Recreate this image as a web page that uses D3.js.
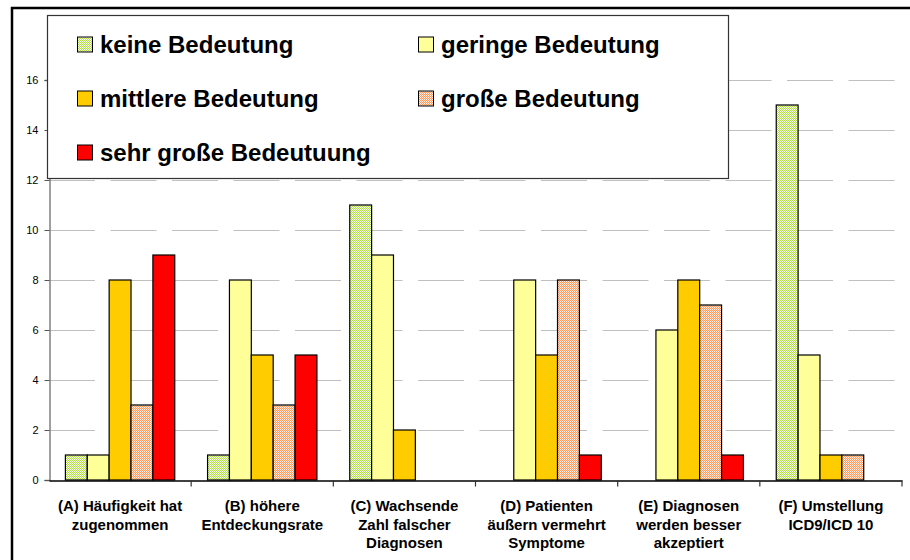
<!DOCTYPE html>
<html>
<head>
<meta charset="utf-8">
<script src="https://cdn.jsdelivr.net/npm/d3@7"></script>
<style>
  html, body { margin: 0; padding: 0; background: #fff; }
  svg { display: block; font-family: "Liberation Sans", Arial, sans-serif; }
</style>
</head>
<body>
<svg id="chart" width="910" height="560"></svg>
<script>
// ---- data ----
const categories = ["A", "B", "C", "D", "E", "F"];
const categoryLabels = [
  ["(A) Häufigkeit hat", "zugenommen"],
  ["(B) höhere", "Entdeckungsrate"],
  ["(C) Wachsende", "Zahl falscher", "Diagnosen"],
  ["(D) Patienten", "äußern vermehrt", "Symptome"],
  ["(E) Diagnosen", "werden besser", "akzeptiert"],
  ["(F) Umstellung", "ICD9/ICD 10"]
];
const seriesNames = ["keine Bedeutung", "geringe Bedeutung", "mittlere Bedeutung", "große Bedeutung", "sehr große Bedeutuung"];
const keine     = [1, 1, 11, 0, 0, 15];
const geringe   = [1, 8, 9, 8, 6, 5];
const mittlere  = [8, 5, 2, 5, 8, 1];
const grosse    = [3, 3, 0, 8, 7, 1];
const sehrGross = [9, 5, 0, 1, 1, 0];
const yTicks = [0, 2, 4, 6, 8, 10, 12, 14, 16];

const seriesValues = [keine, geringe, mittlere, grosse, sehrGross];
const seriesFill = ["url(#patGreen)", "#FFFF99", "#FFCC00", "url(#patSalmon)", "#FF0000"];

const svg = d3.select("#chart");

// patterns (aligned to the pixel grid in absolute user space)
const defs = svg.append("defs");
function checker(id, c1, c2) {
  const p = defs.append("pattern").attr("id", id)
    .attr("x", 0).attr("y", 0)
    .attr("width", 2).attr("height", 2).attr("patternUnits", "userSpaceOnUse");
  p.append("rect").attr("width", 2).attr("height", 2).attr("fill", c2).attr("shape-rendering", "crispEdges");
  p.append("rect").attr("x", 0).attr("y", 0).attr("width", 1).attr("height", 1).attr("fill", c1).attr("shape-rendering", "crispEdges");
  p.append("rect").attr("x", 1).attr("y", 1).attr("width", 1).attr("height", 1).attr("fill", c1).attr("shape-rendering", "crispEdges");
}
checker("patGreen", "#B2DC4C", "#FAFFE6");
checker("patSalmon", "#FF9A5E", "#FFEDE2");

// outer frame
svg.append("rect").attr("x", 12).attr("y", 8).attr("width", 920).attr("height", 570)
  .attr("fill", "none").attr("stroke", "#000").attr("stroke-width", 2.5);

const plotLeft = 49, plotRight = 902;
const x0 = d3.scaleBand().domain(categories).range([plotLeft, plotRight]).padding(0);
const x1 = d3.scaleBand().domain(d3.range(seriesNames.length)).range([0, x0.bandwidth()])
  .paddingInner(0).paddingOuter(0.75);
const y = d3.scaleLinear().domain([0, 16]).range([480, 80]);

// gridlines
svg.append("g").selectAll("line").data(yTicks.filter(d => d > 0)).join("line")
  .attr("x1", plotLeft).attr("x2", plotRight)
  .attr("y1", d => Math.round(y(d)) + 0.5).attr("y2", d => Math.round(y(d)) + 0.5)
  .attr("stroke", "#c0c0c0").attr("stroke-width", 1)
  .attr("stroke-dasharray", "46,15.5");

// bars (absolute coordinates so patterns stay crisp)
const barData = [];
categories.forEach((c, ci) => {
  seriesValues.forEach((vals, si) => {
    if (vals[ci] > 0) barData.push({ c, si, v: vals[ci] });
  });
});
svg.append("g").selectAll("rect").data(barData).join("rect")
  .attr("x", d => x0(d.c) + x1(d.si))
  .attr("width", x1.bandwidth())
  .attr("y", d => y(d.v))
  .attr("height", d => y(0) - y(d.v))
  .attr("fill", d => seriesFill[d.si])
  .attr("stroke", "#000").attr("stroke-width", 1.2);

// y axis
const yAxis = d3.axisLeft(y).tickValues(yTicks).tickSize(5).tickPadding(6);
const gy = svg.append("g").attr("transform", `translate(${plotLeft + 0.5},0)`).call(yAxis);
gy.select(".domain").attr("stroke", "#808080").attr("stroke-width", 1.5);
gy.selectAll(".tick line").attr("stroke", "#555");
gy.selectAll(".tick text").attr("font-size", 11).attr("fill", "#000")
  .attr("font-family", "'Liberation Sans', Arial, sans-serif");

// x axis
const xAxis = d3.axisBottom(x0).tickValues([]).tickSizeOuter(0);
const gx = svg.append("g").attr("transform", `translate(0,${y(0) + 0.5})`).call(xAxis);
gx.select(".domain").attr("stroke", "#000").attr("stroke-width", 1.5);
// category separator ticks
gx.selectAll("line.sep").data(categories.slice(1).concat(["end"])).join("line")
  .attr("class", "sep")
  .attr("x1", (c, i) => i < categories.length - 1 ? x0(c) : plotRight)
  .attr("x2", (c, i) => i < categories.length - 1 ? x0(c) : plotRight)
  .attr("y1", 0).attr("y2", 6).attr("stroke", "#333").attr("stroke-width", 1.2);

// category labels
const lbl = svg.append("g").selectAll("text").data(categories).join("text")
  .attr("text-anchor", "middle")
  .attr("font-size", 15).attr("font-weight", "bold").attr("fill", "#000")
  .attr("x", c => x0(c) + x0.bandwidth() / 2)
  .attr("y", 511);
lbl.each(function (c, i) {
  d3.select(this).selectAll("tspan").data(categoryLabels[i]).join("tspan")
    .attr("x", x0(c) + x0.bandwidth() / 2)
    .attr("dy", (d, j) => j === 0 ? 0 : 18.5)
    .text(d => d);
});

// legend
const legend = svg.append("g");
legend.append("rect").attr("x", 47.5).attr("y", 15.5).attr("width", 681).attr("height", 163)
  .attr("fill", "#fff").attr("stroke", "#333").attr("stroke-width", 1.2);
const legendCols = [77.5, 418.5];
const legendRows = [37, 91, 145];
const items = legend.selectAll("g.item").data(seriesNames).join("g").attr("class", "item");
items.append("rect")
  .attr("x", (d, i) => legendCols[i % 2])
  .attr("y", (d, i) => legendRows[Math.floor(i / 2)])
  .attr("width", 15).attr("height", 15)
  .attr("fill", (d, i) => seriesFill[i]).attr("stroke", "#000").attr("stroke-width", 1);
items.append("text")
  .attr("x", (d, i) => legendCols[i % 2] + 22.5)
  .attr("y", (d, i) => legendRows[Math.floor(i / 2)] + 16)
  .attr("font-size", 24).attr("font-weight", "bold").attr("fill", "#000")
  .text(d => d);
</script>
</body>
</html>
